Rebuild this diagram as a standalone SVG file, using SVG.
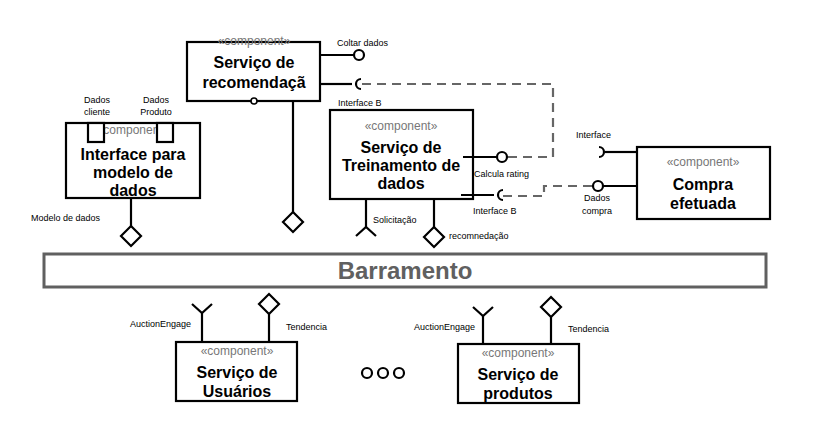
<svg xmlns="http://www.w3.org/2000/svg" width="821" height="427" viewBox="0 0 821 427">
<style>
.box{fill:#fff;stroke:#000;stroke-width:2.2}
.ln{fill:none;stroke:#000;stroke-width:2.2}
.dash{fill:none;stroke:#666;stroke-width:2.2;stroke-dasharray:9 6}
.st{font-family:"Liberation Sans",Arial,sans-serif;font-size:12px;fill:#777;text-anchor:middle}
.tt{font-family:"Liberation Sans",Arial,sans-serif;font-size:16px;font-weight:bold;fill:#000;text-anchor:middle}
.lb{font-family:"Liberation Sans",Arial,sans-serif;font-size:9px;fill:#000}
.lbc{font-family:"Liberation Sans",Arial,sans-serif;font-size:9px;fill:#000;text-anchor:middle}
</style>
<rect width="821" height="427" fill="#fff"/>
<g id="connectors">
<path class="dash" d="M362,84 H553 V157 H508"/>
<path class="dash" d="M503,196 H544 V186 H592"/>
</g>
<g id="recomendacao">
<rect class="box" x="187" y="42" width="133" height="59"/>
<text class="st" x="254" y="45">«component»</text>
<text class="tt" x="254" y="68">Serviço de</text>
<text class="tt" x="254" y="88">recomendaçã</text>
<line class="ln" x1="320" y1="55" x2="354" y2="55"/>
<circle class="ln" cx="359" cy="55" r="5"/>
<text class="lb" x="337" y="46">Coltar dados</text>
<line class="ln" x1="320" y1="84" x2="352" y2="84"/>
<path class="ln" d="M361,79 A5,5 0 0 0 361,89"/>
<circle cx="254" cy="101" r="3" fill="#fff" stroke="#000" stroke-width="1.6"/>
<line class="ln" x1="293" y1="101" x2="293" y2="212"/>
<path class="ln" d="M293,212 L303,222 L293,232 L283,222 Z"/>
</g>
<g id="interface">
<rect class="box" x="66" y="123" width="134" height="75"/>
<text class="st" x="133" y="134">«component»</text>
<rect class="box" x="88" y="123" width="16" height="19"/>
<rect class="box" x="157" y="123" width="16" height="19"/>
<text class="lbc" x="97" y="103">Dados</text>
<text class="lbc" x="97" y="115">cliente</text>
<text class="lbc" x="156" y="103">Dados</text>
<text class="lbc" x="156" y="115">Produto</text>
<text class="tt" x="133" y="160">Interface para</text>
<text class="tt" x="133" y="178">modelo de</text>
<text class="tt" x="133" y="196">dados</text>
<line class="ln" x1="131" y1="198" x2="131" y2="226"/>
<path class="ln" d="M131,226 L141,236 L131,246 L121,236 Z"/>
<text class="lb" x="31" y="221">Modelo de dados</text>
</g>
<g id="treinamento">
<rect class="box" x="330" y="110" width="143" height="89"/>
<text class="st" x="401" y="130">«component»</text>
<text class="tt" x="401" y="153">Serviço de</text>
<text class="tt" x="401" y="171">Treinamento de</text>
<text class="tt" x="401" y="189">dados</text>
<text class="lb" x="338" y="106">Interface B</text>
<line class="ln" x1="463" y1="157" x2="497" y2="157"/>
<circle class="ln" cx="502" cy="157" r="5"/>
<text class="lb" x="474" y="177">Calcula rating</text>
<line class="ln" x1="461" y1="195" x2="494" y2="195"/>
<path class="ln" d="M503,190 A5,5 0 0 0 503,200"/>
<text class="lb" x="473" y="214">Interface B</text>
<line class="ln" x1="366" y1="199" x2="366" y2="227"/>
<path class="ln" d="M356,236 L366,227 L376,236"/>
<text class="lb" x="373" y="223">Solicitação</text>
<line class="ln" x1="434" y1="199" x2="434" y2="227"/>
<path class="ln" d="M434,227 L444,237 L434,247 L424,237 Z"/>
<text class="lb" x="449" y="239">recomnedação</text>
</g>
<g id="compra">
<rect class="box" x="637" y="147" width="133" height="72"/>
<text class="st" x="703" y="166">«component»</text>
<text class="tt" x="703" y="190">Compra</text>
<text class="tt" x="703" y="209">efetuada</text>
<line class="ln" x1="637" y1="152" x2="605" y2="152"/>
<path class="ln" d="M599,147 A5,5 0 0 1 599,157"/>
<text class="lb" x="576" y="138">Interface</text>
<line class="ln" x1="637" y1="186" x2="603" y2="186"/>
<circle class="ln" cx="598" cy="186" r="5"/>
<text class="lbc" x="597" y="201">Dados</text>
<text class="lbc" x="597" y="214">compra</text>
</g>
<g id="barramento">
<rect x="44" y="254" width="722" height="33" fill="#fff" stroke="#606060" stroke-width="3"/>
<text x="405" y="279" font-family="'Liberation Sans',Arial,sans-serif" font-size="24" font-weight="bold" fill="#606060" text-anchor="middle">Barramento</text>
</g>
<g id="usuarios">
<rect class="box" x="176" y="342" width="121" height="59"/>
<text class="st" x="237" y="355">«component»</text>
<text class="tt" x="237" y="378">Serviço de</text>
<text class="tt" x="237" y="397">Usuários</text>
<line class="ln" x1="202" y1="342" x2="202" y2="313"/>
<path class="ln" d="M192,304 L202,313 L212,304"/>
<text class="lb" x="130" y="327">AuctionEngage</text>
<line class="ln" x1="269" y1="342" x2="269" y2="314"/>
<path class="ln" d="M269,294 L279,304 L269,314 L259,304 Z"/>
<text class="lb" x="286" y="330">Tendencia</text>
</g>
<g id="produtos">
<rect class="box" x="458" y="344" width="121" height="59"/>
<text class="st" x="518" y="357">«component»</text>
<text class="tt" x="518" y="380">Serviço de</text>
<text class="tt" x="518" y="399">produtos</text>
<line class="ln" x1="483" y1="344" x2="483" y2="316"/>
<path class="ln" d="M473,307 L483,316 L493,307"/>
<text class="lb" x="414" y="330">AuctionEngage</text>
<line class="ln" x1="551" y1="344" x2="551" y2="317"/>
<path class="ln" d="M551,297 L561,307 L551,317 L541,307 Z"/>
<text class="lb" x="568" y="332">Tendencia</text>
</g>
<g id="ellipsis">
<circle class="ln" cx="367" cy="373" r="5"/>
<circle class="ln" cx="383" cy="373" r="5"/>
<circle class="ln" cx="399" cy="373" r="5"/>
</g>
</svg>
